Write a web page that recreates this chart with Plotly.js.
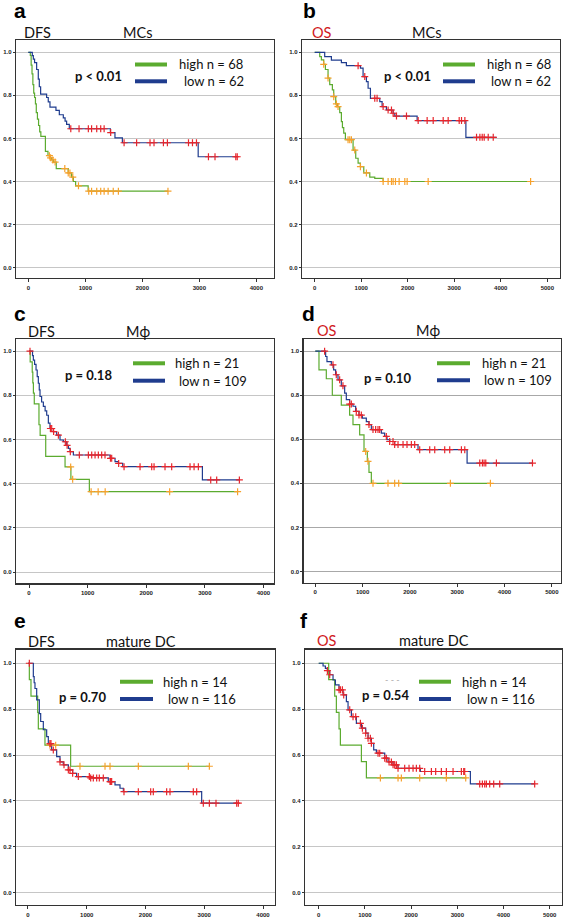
<!DOCTYPE html>
<html><head><meta charset="utf-8">
<script src="https://cdn.plot.ly/plotly-3.0.1.min.js"></script>
<style>html,body{margin:0;padding:0;background:#fff}#chart{width:567px;height:918px}</style>
</head><body><div id="chart"></div>
<script>
// ---------- tick labels ----------
const xTicksDFS = [0, 1000, 2000, 3000, 4000];
const xTicksOS = [0, 1000, 2000, 3000, 4000, 5000];
const yTickVals = [0, 0.2, 0.4, 0.6, 0.8, 1.0];
const yTickText = ['0.0', '0.2', '0.4', '0.6', '0.8', '1.0'];

// ---------- panel a: DFS, MCs ----------
const aHighT = [0, 35, 50, 65, 80, 95, 110, 125, 140, 160, 180, 200, 220, 300, 345, 380, 410, 440, 490, 700, 760, 790, 830, 1050, 2450];
const aHighS = [1.0, 0.985, 0.94, 0.90, 0.85, 0.81, 0.79, 0.76, 0.72, 0.69, 0.66, 0.63, 0.61, 0.54, 0.52, 0.51, 0.50, 0.49, 0.46, 0.44, 0.42, 0.40, 0.38, 0.355, 0.355];
const aHighC = [370, 390, 430, 470, 640, 700, 730, 780, 880, 1060, 1110, 1200, 1270, 1330, 1400, 1490, 1580, 2450];
const aLowT = [0, 70, 88, 110, 146, 175, 193, 216, 321, 350, 380, 485, 544, 614, 645, 672, 719, 1440, 1520, 1650, 2980, 3660];
const aLowS = [1.0, 0.984, 0.968, 0.952, 0.92, 0.875, 0.84, 0.806, 0.79, 0.77, 0.745, 0.73, 0.71, 0.695, 0.68, 0.665, 0.645, 0.627, 0.603, 0.58, 0.515, 0.515];
const aLowC = [745, 890, 1053, 1110, 1200, 1270, 1330, 1445, 1680, 1900, 2135, 2205, 2370, 2440, 2810, 2880, 2950, 3160, 3275, 3640, 3665];

// ---------- panel b: OS, MCs ----------
const bHighT = [0, 108, 144, 194, 230, 287, 323, 380, 409, 452, 488, 538, 574, 596, 624, 660, 825, 882, 933, 983, 1055, 1184, 1291, 1471, 4640];
const bHighS = [1.0, 0.98, 0.965, 0.944, 0.92, 0.88, 0.85, 0.825, 0.794, 0.76, 0.748, 0.72, 0.678, 0.65, 0.625, 0.594, 0.546, 0.508, 0.485, 0.469, 0.44, 0.42, 0.415, 0.40, 0.40];
const bHighC = [194, 287, 409, 466, 502, 717, 753, 789, 861, 983, 1112, 1471, 1578, 1650, 1686, 1736, 1815, 1937, 1987, 2439, 4641];
const bLowT = [0, 215, 359, 574, 681, 983, 1040, 1112, 1148, 1198, 1399, 1449, 1542, 1686, 1722, 2202, 3250, 3910];
const bLowS = [1.0, 0.98, 0.964, 0.952, 0.938, 0.926, 0.887, 0.864, 0.833, 0.786, 0.771, 0.748, 0.732, 0.717, 0.704, 0.683, 0.605, 0.605];
const bLowC = [933, 1076, 1291, 1341, 1471, 1578, 1650, 1686, 1758, 1973, 2224, 2417, 2547, 2762, 2869, 3106, 3156, 3228, 3479, 3551, 3601, 3644, 3730, 3838];

// ---------- panel c: DFS, Mphi ----------
const cHighT = [0, 20, 55, 65, 75, 90, 170, 190, 285, 615, 715, 1030, 3560];
const cHighS = [1.0, 0.952, 0.905, 0.857, 0.81, 0.762, 0.667, 0.619, 0.524, 0.476, 0.42, 0.364, 0.364];
const cHighC = [711, 745, 1060, 1180, 1300, 2400, 3560];
const cLowT = [0, 60, 74, 95, 120, 140, 159, 175, 188, 215, 245, 275, 302, 330, 358, 415, 472, 529, 586, 643, 672, 700, 757, 1383, 1468, 1525, 1599, 2959, 3590];
const cLowS = [1.0, 0.98, 0.96, 0.94, 0.915, 0.885, 0.855, 0.825, 0.795, 0.77, 0.75, 0.73, 0.71, 0.674, 0.65, 0.636, 0.62, 0.598, 0.59, 0.574, 0.56, 0.545, 0.53, 0.515, 0.50, 0.492, 0.477, 0.417, 0.417];
const cLowC = [17, 365, 387, 420, 501, 620, 650, 705, 859, 1013, 1070, 1127, 1183, 1240, 1297, 1390, 1411, 1530, 1622, 1895, 2094, 2134, 2321, 2435, 2748, 2817, 2890, 3101, 3203, 3590];

// ---------- panel d: OS, Mphi ----------
const dHighT = [0, 78, 233, 360, 550, 726, 797, 938, 1030, 1100, 1135, 1185, 3702];
const dHighS = [1.0, 0.915, 0.875, 0.80, 0.755, 0.71, 0.667, 0.62, 0.545, 0.50, 0.45, 0.40, 0.40];
const dHighC = [1065, 1114, 1220, 1537, 1678, 1763, 2856, 3702];
const dLowT = [0, 219, 247, 339, 388, 430, 480, 550, 621, 656, 726, 797, 853, 924, 994, 1079, 1135, 1185, 1396, 1467, 1516, 1573, 1678, 2172, 3209, 4591];
const dLowS = [1.0, 0.976, 0.953, 0.938, 0.915, 0.893, 0.87, 0.843, 0.81, 0.78, 0.76, 0.75, 0.727, 0.71, 0.696, 0.68, 0.667, 0.644, 0.628, 0.613, 0.598, 0.59, 0.576, 0.553, 0.492, 0.492];
const dLowC = [197, 374, 444, 515, 585, 726, 762, 867, 924, 973, 1135, 1220, 1276, 1326, 1361, 1502, 1573, 1643, 1678, 1749, 1855, 1939, 2031, 2101, 2207, 2419, 2525, 2736, 2842, 3089, 3160, 3477, 3533, 3568, 3604, 3829, 4591];

// ---------- panel e: DFS, mature DC ----------
const eHighT = [0, 23, 51, 165, 176, 289, 726, 3087];
const eHighS = [1.0, 0.929, 0.857, 0.786, 0.714, 0.643, 0.551, 0.551];
const eHighC = [374, 471, 885, 1311, 1396, 1878, 2729, 3087];
const eLowT = [0, 91, 105, 119, 148, 193, 216, 261, 318, 346, 403, 488, 545, 601, 687, 760, 828, 1055, 1367, 1481, 1566, 1623, 2956, 3580];
const eLowS = [1.0, 0.942, 0.915, 0.89, 0.84, 0.78, 0.746, 0.71, 0.68, 0.65, 0.622, 0.593, 0.57, 0.557, 0.535, 0.52, 0.506, 0.50, 0.484, 0.47, 0.455, 0.44, 0.39, 0.39];
const eLowC = [23, 374, 391, 431, 545, 613, 687, 715, 760, 857, 1044, 1067, 1112, 1169, 1214, 1282, 1396, 1407, 1424, 1634, 1878, 2088, 2133, 2360, 2417, 2814, 2871, 2984, 3087, 3200, 3552, 3580];

// ---------- panel f: OS, mature DC ----------
const fHighT = [0, 216, 346, 382, 440, 469, 924, 1032, 3196];
const fHighS = [1.0, 0.929, 0.857, 0.786, 0.714, 0.643, 0.571, 0.50, 0.50];
const fHighC = [1335, 1717, 1789, 2186, 2763, 3182];
const fLowT = [0, 94, 144, 188, 238, 310, 361, 440, 527, 599, 635, 707, 815, 924, 1017, 1068, 1140, 1190, 1248, 1429, 1501, 1609, 1717, 2201, 3283, 4675];
const fLowS = [1.0, 0.988, 0.978, 0.968, 0.95, 0.927, 0.906, 0.884, 0.862, 0.833, 0.797, 0.767, 0.738, 0.717, 0.695, 0.673, 0.651, 0.622, 0.608, 0.586, 0.57, 0.557, 0.542, 0.528, 0.474, 0.474];
const fLowC = [188, 238, 440, 469, 512, 541, 671, 743, 801, 902, 945, 1017, 1068, 1118, 1140, 1284, 1320, 1429, 1465, 1522, 1573, 1609, 1645, 1681, 1717, 1861, 1955, 2042, 2114, 2186, 2294, 2439, 2532, 2655, 2763, 2908, 3088, 3139, 3160, 3485, 3543, 3593, 3629, 3701, 3788, 3918, 4675];

// ---------- text ----------
const letters = ['a', 'b', 'c', 'd', 'e', 'f'];
const endpoints = ['DFS', 'OS', 'DFS', 'OS', 'DFS', 'OS'];
const cellTypes = ['MCs', 'MCs', 'Mϕ', 'Mϕ', 'mature DC', 'mature DC'];
const pTexts = ['p < 0.01', 'p < 0.01', 'p = 0.18', 'p = 0.10', 'p = 0.70', 'p = 0.54'];
const highLabels = ['high n = 68', 'high n = 68', 'high n = 21', 'high n = 21', 'high n = 14', 'high n = 14'];
const lowLabels = ['low n = 62', 'low n = 62', 'low n = 109', 'low n = 109', 'low n = 116', 'low n = 116'];

// ---------- styling / layout ----------
const W = 567, H = 918;
const px = x => x / W, py = y => 1 - y / H;
const GREEN = '#5bab2f', BLUE = '#1f3c8e', RED = '#e8252b', ORANGE = '#f6a12c';
const FONT = 'Lato, "Open Sans", sans-serif';

function survAt(t, T, S) { let v = S[0]; for (let i = 0; i < T.length; i++) { if (T[i] <= t) v = S[i]; else break; } return v; }

const panels = [
  {hT: aHighT, hS: aHighS, hC: aHighC, lT: aLowT, lS: aLowS, lC: aLowC, xt: xTicksDFS, box: [16, 40, 274, 278], xr: [-216, 4310], yr: [-0.048, 1.057], grid: '#c6c6c6',
   letter: [12, 11], title: [22, 137.5, 32.5], p: [73, 76], leg: [135, 167, 64.5, 81.3, 177, 182]},
  {hT: bHighT, hS: bHighS, hC: bHighC, lT: bLowT, lS: bLowS, lC: bLowC, xt: xTicksOS, box: [302, 40, 560, 278], xr: [-273, 5273], yr: [-0.048, 1.057], grid: '#c6c6c6',
   letter: [301, 11], title: [310, 426.5, 32.5], p: [382, 76], leg: [443, 475, 64.5, 81.3, 485, 489]},
  {hT: cHighT, hS: cHighS, hC: cHighC, lT: cLowT, lS: cLowS, lC: cLowC, xt: xTicksDFS, box: [16, 339.3, 274, 583.3], xr: [-222, 4181], yr: [-0.051, 1.054], grid: '#c6c6c6',
   letter: [12, 313.5], title: [26, 137.5, 331.5], p: [63, 375], leg: [133, 165, 363.3, 380.7, 173, 177]},
  {hT: dHighT, hS: dHighS, hC: dHighC, lT: dLowT, lS: dLowS, lC: dLowC, xt: xTicksOS, box: [303.7, 339.3, 560.7, 582.7], xr: [-245, 5188], yr: [-0.051, 1.054], grid: '#a8a8a8',
   letter: [300, 313.5], title: [315, 428, 330], p: [362, 377.7], leg: [437, 470, 363.3, 380.3, 480, 482]},
  {hT: eHighT, hS: eHighS, hC: eHighC, lT: eLowT, lS: eLowS, lC: eLowC, xt: xTicksDFS, box: [16, 649.5, 274.7, 905], xr: [-204, 4199], yr: [-0.054, 1.06], grid: '#c6c6c6',
   letter: [12, 620.5], title: [26, 141, 641.5], p: [57, 697], leg: [120, 153, 681.7, 699, 161, 166]},
  {hT: fHighT, hS: fHighS, hC: fHighC, lT: fLowT, lS: fLowS, lC: fLowC, xt: xTicksOS, box: [305, 649.5, 561.7, 905], xr: [-297, 5260], yr: [-0.054, 1.06], grid: '#c6c6c6',
   letter: [298, 620.5], title: [315, 433.5, 640.5], p: [360, 695], leg: [419, 451, 681.7, 699, 460, 465]},
];

const traces = [], annotations = [], shapes = [];
const layout = {width: W, height: H, margin: {l: 0, r: 0, t: 0, b: 0}, paper_bgcolor: '#fff', plot_bgcolor: '#fff', showlegend: false};

panels.forEach((P, i) => {
  const n = i + 1, xa = 'x' + (n === 1 ? '' : n), ya = 'y' + (n === 1 ? '' : n);
  const xk = 'xaxis' + (n === 1 ? '' : n), yk = 'yaxis' + (n === 1 ? '' : n);
  layout[xk] = {domain: [px(P.box[0]), px(P.box[2])], range: P.xr, anchor: ya, tickvals: P.xt, ticktext: P.xt.map(String),
    ticks: 'outside', ticklen: 3, tickwidth: 1, tickcolor: '#333', showline: true, mirror: true, linecolor: '#333', linewidth: 1.3,
    showgrid: false, zeroline: false, fixedrange: true, tickfont: {family: 'Liberation Sans, Arial', size: 6, color: '#222', weight: 'bold'}};
  layout[yk] = {domain: [py(P.box[3]), py(P.box[1])], range: P.yr, anchor: xa, tickvals: yTickVals, ticktext: yTickText,
    ticks: 'outside', ticklen: 2, tickwidth: 1, tickcolor: '#333', showline: true, mirror: true, linecolor: '#333', linewidth: 1.3,
    showgrid: true, gridcolor: P.grid, gridwidth: 1, zeroline: false, fixedrange: true,
    tickfont: {family: 'Liberation Sans, Arial', size: 6, color: '#222', weight: 'bold'}};

  traces.push({x: P.hT, y: P.hS, xaxis: xa, yaxis: ya, mode: 'lines', line: {shape: 'hv', color: GREEN, width: 1.2}, hoverinfo: 'skip'});
  traces.push({x: P.lT, y: P.lS, xaxis: xa, yaxis: ya, mode: 'lines', line: {shape: 'hv', color: BLUE, width: 1.2}, hoverinfo: 'skip'});
  traces.push({x: P.hC, y: P.hC.map(t => survAt(t, P.hT, P.hS)), xaxis: xa, yaxis: ya, mode: 'markers',
    marker: {symbol: 'cross-thin', size: 5, line: {color: ORANGE, width: 1.2}}, hoverinfo: 'skip'});
  traces.push({x: P.lC, y: P.lC.map(t => survAt(t, P.lT, P.lS)), xaxis: xa, yaxis: ya, mode: 'markers',
    marker: {symbol: 'cross-thin', size: 5, line: {color: RED, width: 1.2}}, hoverinfo: 'skip'});

  const ann = (x, y, text, size, opts) => annotations.push(Object.assign({xref: 'paper', yref: 'paper', x: px(x), y: py(y), text: text,
    showarrow: false, xanchor: 'left', yanchor: 'middle', font: {family: FONT, size: size, color: '#111'}}, opts || {}));

  ann(P.letter[0], P.letter[1], '<b>' + letters[i] + '</b>', 21, {font: {family: 'Liberation Sans, Arial', size: 21, color: '#000'}});
  ann(P.title[0], P.title[2], endpoints[i], 14.5, endpoints[i] === 'OS' ? {font: {family: FONT, size: 14.5, color: '#d0191c'}} : {});
  ann(P.title[1], P.title[2], cellTypes[i], 14.5, {xanchor: 'center'});
  ann(P.p[0], P.p[1], '<b>' + pTexts[i] + '</b>', 13);
  ann(P.leg[4], P.leg[2], highLabels[i], 13);
  ann(P.leg[5], P.leg[3], lowLabels[i], 13);
  shapes.push({type: 'line', xref: 'paper', yref: 'paper', x0: px(P.leg[0]), x1: px(P.leg[1]), y0: py(P.leg[2]), y1: py(P.leg[2]), line: {color: GREEN, width: 4}});
  shapes.push({type: 'line', xref: 'paper', yref: 'paper', x0: px(P.leg[0]), x1: px(P.leg[1]), y0: py(P.leg[3]), y1: py(P.leg[3]), line: {color: BLUE, width: 4}});
});
// faint dashes above the p-value in panel f
annotations.push({xref: 'paper', yref: 'paper', x: px(392), y: py(679), text: '- - -', showarrow: false, xanchor: 'center', yanchor: 'middle',
  font: {family: FONT, size: 9, color: '#aaa'}});

layout.annotations = annotations;
layout.shapes = shapes;
Plotly.newPlot('chart', traces, layout, {displayModeBar: false, staticPlot: true});
</script></body></html>
